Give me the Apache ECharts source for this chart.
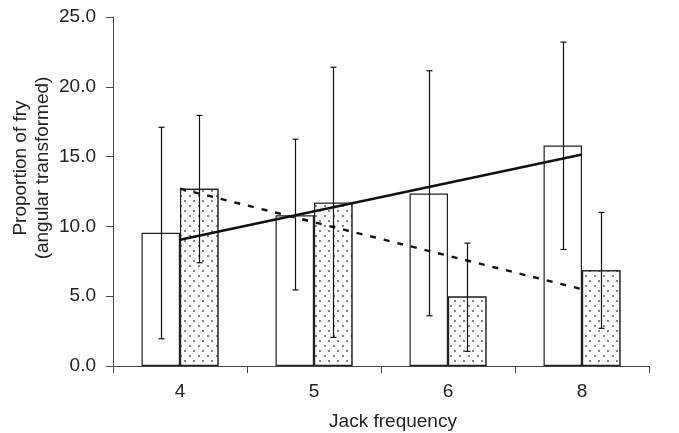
<!DOCTYPE html>
<html>
<head>
<meta charset="utf-8">
<script src="https://cdn.jsdelivr.net/npm/echarts@6/dist/echarts.min.js"></script>
<style>html,body{margin:0;padding:0;background:#fff;}#c{width:679px;height:433px;}</style>
</head>
<body>
<div id="c"></div>
<script>
var categories = ['4', '5', '6', '8'];
var openMeans = [9.55, 10.8, 12.35, 15.8];
var openLow = [1.95, 5.45, 3.6, 8.35];
var openHigh = [17.1, 16.25, 21.15, 23.2];
var dotMeans = [12.7, 11.7, 4.97, 6.85];
var dotLow = [7.4, 2.05, 1.05, 2.7];
var dotHigh = [17.95, 21.4, 8.8, 11.0];
var solidTrend = [9.05, null, null, 15.15];
var dashedTrend = [12.7, null, null, 5.5];
var yTicks = [0, 5, 10, 15, 20, 25];

var BAR_FRAC = 0.287;
var FONT = 'Liberation Sans, Arial, sans-serif';
var TXT = '#222';

function errSeries(low, high, side) {
  var data = categories.map(function (c, i) { return [i, low[i], high[i]]; });
  return {
    type: 'custom',
    z: 5,
    data: data,
    encode: { x: 0, y: [1, 2] },
    renderItem: function (params, api) {
      var i = api.value(0);
      var band = api.size([1, 0])[0];
      var off = side * band * BAR_FRAC / 2;
      var pLo = api.coord([i, api.value(1)]);
      var pHi = api.coord([i, api.value(2)]);
      var x = Math.round(pLo[0] + off) + 0.5;
      var cap = 3;
      var st = { stroke: '#111', lineWidth: 1.2 };
      return {
        type: 'group',
        children: [
          { type: 'line', shape: { x1: x, y1: pLo[1], x2: x, y2: pHi[1] }, style: st },
          { type: 'line', shape: { x1: x - cap, y1: pLo[1], x2: x + cap, y2: pLo[1] }, style: st },
          { type: 'line', shape: { x1: x - cap, y1: pHi[1], x2: x + cap, y2: pHi[1] }, style: st }
        ]
      };
    }
  };
}

var chart = echarts.init(document.getElementById('c'));
chart.setOption({
  animation: false,
  backgroundColor: '#fff',
  grid: { left: 113, right: 30, top: 17, bottom: 67 },
  xAxis: {
    type: 'category',
    data: categories,
    boundaryGap: true,
    axisLine: { lineStyle: { color: '#444', width: 1 } },
    axisTick: { show: true, length: 7, inside: false, lineStyle: { color: '#444' } },
    axisLabel: { color: TXT, fontSize: 19, fontFamily: FONT, margin: 16 }
  },
  yAxis: {
    type: 'value',
    min: yTicks[0],
    max: yTicks[yTicks.length - 1],
    interval: 5,
    splitLine: { show: false },
    axisLine: { show: true, lineStyle: { color: '#444', width: 1 } },
    axisTick: { show: true, length: 7, lineStyle: { color: '#444' } },
    axisLabel: {
      color: TXT, fontSize: 19, fontFamily: FONT, margin: 17,
      formatter: function (v) { return v.toFixed(1); }
    }
  },
  graphic: [
    {
      type: 'text', x: 32, y: 168, rotation: Math.PI / 2,
      style: {
        text: 'Proportion of fry\n(angular transformed)',
        fill: TXT, font: '19px ' + FONT, align: 'center', verticalAlign: 'middle', lineHeight: 22
      }
    },
    {
      type: 'text', x: 393, y: 422,
      style: {
        text: 'Jack frequency', fill: TXT, font: '19px ' + FONT, align: 'center', verticalAlign: 'middle'
      }
    }
  ],
  series: [
    {
      type: 'bar', data: openMeans, barWidth: (BAR_FRAC * 100) + '%', barGap: '0%',
      itemStyle: { color: '#fff', borderColor: '#222', borderWidth: 1.2 }
    },
    {
      type: 'bar', data: dotMeans, barWidth: (BAR_FRAC * 100) + '%', barGap: '0%',
      itemStyle: {
        color: '#fff', borderColor: '#222', borderWidth: 1.2,
        decal: {
          symbol: 'rect', symbolSize: 0.8, color: '#333', backgroundColor: '#fff',
          dashArrayX: [[1.7, 6.3], [0, 4, 1.7, 2.3]], dashArrayY: [1.7, 2.6], rotation: 0
        }
      }
    },
    errSeries(openLow, openHigh, -1),
    errSeries(dotLow, dotHigh, 1),
    {
      type: 'line', data: solidTrend, connectNulls: true, symbol: 'none', z: 6,
      lineStyle: { color: '#111', width: 2.6 }
    },
    {
      type: 'line', data: dashedTrend, connectNulls: true, symbol: 'none', z: 6,
      lineStyle: { color: '#111', width: 2.4, type: [6, 8] }
    }
  ]
});
</script>
</body>
</html>
